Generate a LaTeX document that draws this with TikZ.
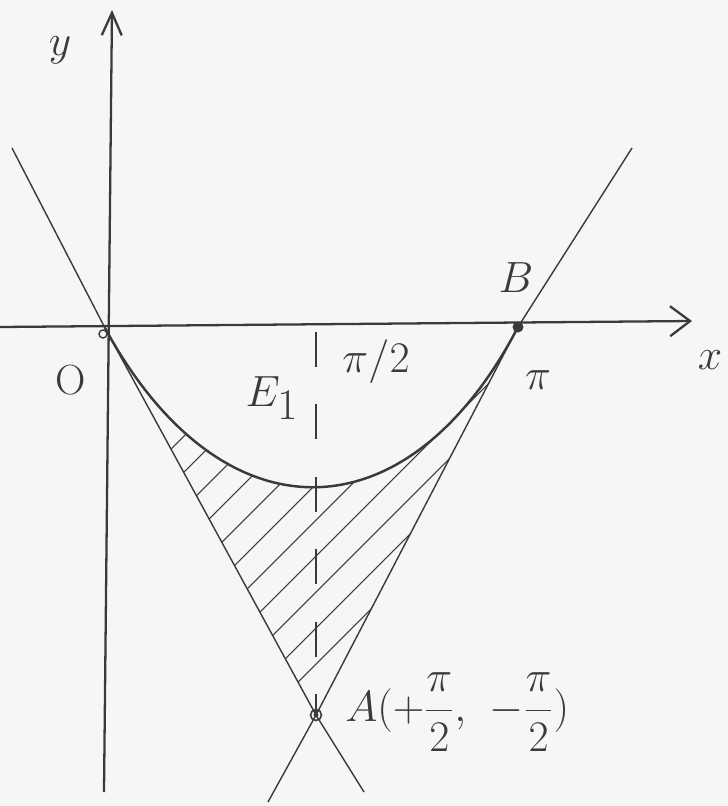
\documentclass[tikz,border=0pt]{standalone}
\usetikzlibrary{arrows.meta}
\definecolor{skPencil}{HTML}{3A3A3A}
\definecolor{skPaper}{HTML}{F6F6F4}
\tikzset{
  sk axis/.style={draw=skPencil, line width=1.3pt},
  sk tangent/.style={draw=skPencil, line width=0.8pt},
  sk curve/.style={draw=skPencil, line width=1.4pt},
  sk guide/.style={draw=skPencil, line width=0.9pt, dash pattern=on 0.7cm off 0.75cm},
  sk hatch/.style={draw=skPencil, line width=0.6pt},
  sk label/.style={text=skPencil, inner sep=0pt, font=\fontsize{30}{34}\selectfont},
  sk small label/.style={text=skPencil, inner sep=0pt, font=\fontsize{24}{28}\selectfont},
  sk big label/.style={text=skPencil, inner sep=0pt, font=\fontsize{34}{38}\selectfont},
}

\begin{document}
\begin{tikzpicture}[x=0.02cm,y=-0.02cm]
  \fill[skPaper] (0,0) rectangle (728,806);
  \useasboundingbox (0,0) rectangle (728,806);
  % points of the sketch
  \coordinate (O) at (105,328);
  \coordinate (B) at (518,327);
  \coordinate (A) at (316,715);
  \coordinate (halfpi) at (316,332);
  \coordinate (xstart) at (0,327);
  \coordinate (xend) at (692,321);
  \coordinate (ystart) at (104,792);
  \coordinate (yend) at (112,10);
  \coordinate (ltop) at (12,148);
  \coordinate (lbot) at (364,792);
  \coordinate (rtop) at (632,148);
  \coordinate (rbot) at (268,802);
  % hatched part between the curve and the tangents
  \begin{scope}
    \clip (O) .. controls (221,541) and (407,540) .. (B) -- (A) -- cycle;
    \foreach \c in {620,656,...,980}
      \draw[sk hatch] (\c-800,800) -- (\c-200,200);
  \end{scope}
  % axes
  \draw[sk axis, -{Straight Barb[length=4mm,width=6mm]}] (xstart) -- (xend);
  \draw[sk axis, -{Straight Barb[length=4.5mm,width=4mm]}] (ystart) -- (yend);
  % tangents through A
  \draw[sk tangent] (ltop) -- (O) -- (A) -- (lbot);
  \draw[sk tangent] (rtop) -- (B) -- (A) -- (rbot);
  \draw[sk guide] (halfpi) -- (A);
  % the curve
  \draw[sk curve] (O) .. controls (221,541) and (407,540) .. (B);
  % marked points
  \draw[skPencil, line width=0.8pt] (103,334) circle[radius=0.8mm];
  \fill[skPencil] (B) circle[radius=1.1mm];
  \draw[skPencil, line width=0.9pt] (A) circle[radius=1.1mm];
  \fill[skPencil] (A) circle[radius=0.5mm];
  % labels
  \node[sk label] (ylab) at (60,50) {$y$};
  \node[sk label] (xlab) at (710,360) {$x$};
  \node[sk small label] (olab) at (71,380) {O};
  \node[sk small label] (hlab) at (376,362) {$\pi/2$};
  \node[sk big label] (elab) at (272,398) {$E_1$};
  \node[sk label] (blab) at (516,278) {$B$};
  \node[sk label] (plab) at (538,380) {$\pi$};
  \node[sk label, anchor=west] (alab) at (345,712) {$\displaystyle A\Bigl(+\frac{\pi}{2},\ -\frac{\pi}{2}\Bigr)$};
\end{tikzpicture}
\end{document}
